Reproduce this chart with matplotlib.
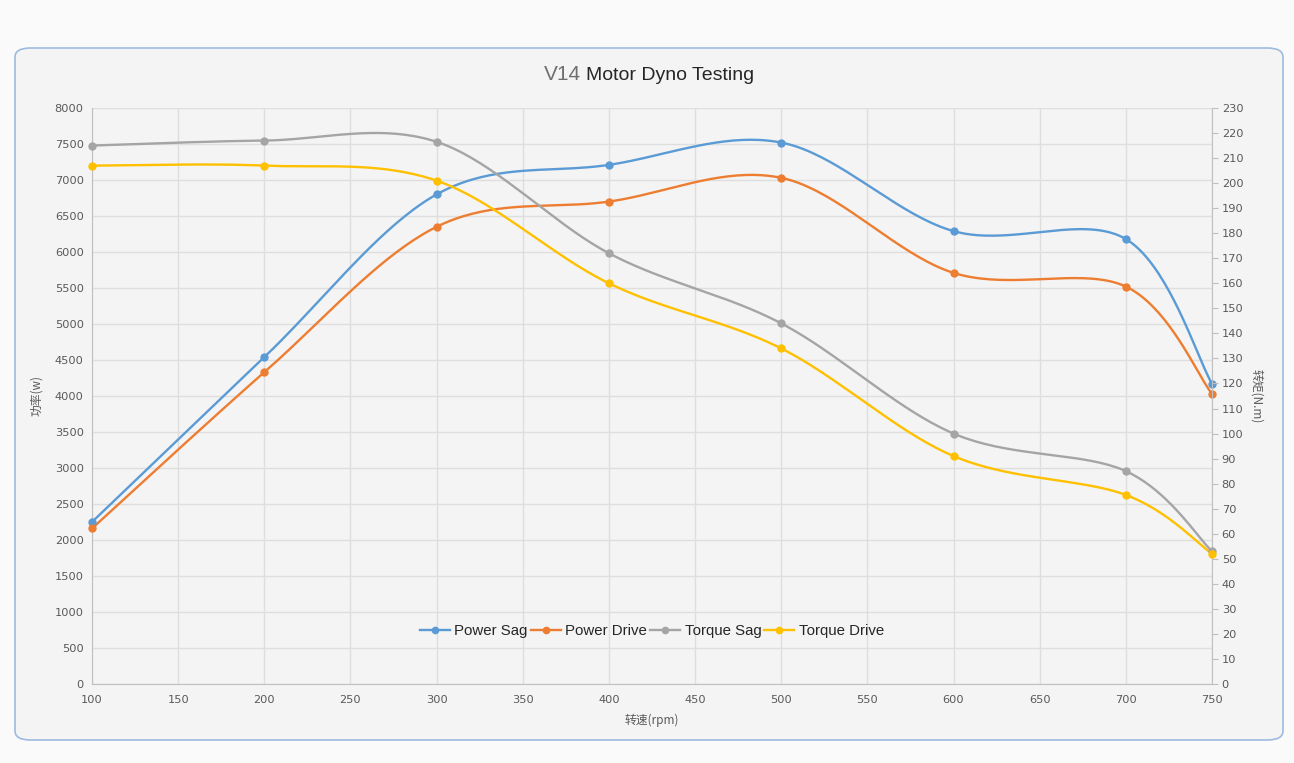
"""V14 motor dyno chart: power and torque vs speed, Excel-style smoothed lines."""

import numpy as np
import matplotlib
matplotlib.use("Agg")
import matplotlib.pyplot as plt
from matplotlib.patches import FancyBboxPatch
from matplotlib.lines import Line2D

plt.rcParams["font.family"] = ["DejaVu Sans", "Noto Sans CJK SC"]

rpm = [100, 200, 300, 400, 500, 600, 700, 750]
power_sag = [2250, 4540, 6800, 7210, 7520, 6290, 6180, 4170]
power_drive = [2160, 4330, 6350, 6700, 7030, 5710, 5520, 4030]
torque_sag = [215, 217, 216.5, 172, 144, 100, 85, 53]
torque_drive = [207, 207, 201, 160, 134, 91, 75.5, 52]

series_names = ["Power Sag", "Power Drive", "Torque Sag", "Torque Drive"]
colors = ["#5b9bd5", "#ed7d31", "#a5a5a5", "#ffc000"]

W, H = 1294, 763
AX_L, AX_R, AX_B, AX_T = 92, 1212, 684, 108
TEXT = "#595959"
GRID = "#dedede"
CJK = ["Noto Sans CJK SC", "DejaVu Sans"]


def smooth(ax, xs, ys, steps=40):
    """Catmull-Rom style Bezier through the points, done in screen space like Excel."""
    trans = ax.transData
    pts = trans.transform(np.column_stack([xs, ys]))
    n = len(pts)
    out = [pts[0]]
    for i in range(n - 1):
        p0 = pts[max(i - 1, 0)]
        p1 = pts[i]
        p2 = pts[i + 1]
        p3 = pts[min(i + 2, n - 1)]
        c1 = p1 + (p2 - p0) / 6.0
        c2 = p2 - (p3 - p1) / 6.0
        t = np.linspace(0, 1, steps)[1:, None]
        seg = ((1 - t) ** 3) * p1 + 3 * ((1 - t) ** 2) * t * c1 + 3 * (1 - t) * t ** 2 * c2 + t ** 3 * p2
        out.extend(seg)
    out = np.array(out)
    data = trans.inverted().transform(out)
    return data[:, 0], data[:, 1]


fig = plt.figure(figsize=(W / 100, H / 100), dpi=100)
fig.patch.set_facecolor("#fafafa")

card = FancyBboxPatch((15 / W, (H - 740) / H), (1283 - 15) / W, (740 - 48) / H,
                      boxstyle="round,pad=0,rounding_size=0.012",
                      transform=fig.transFigure, facecolor="#f4f4f4",
                      edgecolor="#9dbbe0", linewidth=1.2, zorder=-5)
fig.patches.append(card)

ax = fig.add_axes([AX_L / W, (H - AX_B) / H, (AX_R - AX_L) / W, (AX_B - AX_T) / H])
ax.set_facecolor("none")
ax2 = ax.twinx()

ax.set_xlim(100, 750)
ax.set_ylim(0, 8000)
ax2.set_ylim(0, 230)
ax.set_xticks(np.arange(100, 751, 50))
ax.set_yticks(np.arange(0, 8001, 500))
ax2.set_yticks(np.arange(0, 231, 10))

ax.grid(True, color=GRID, linewidth=1.0)
ax.set_axisbelow(True)
for a in (ax, ax2):
    a.spines["top"].set_visible(False)
    a.spines["left"].set_color("#bfbfbf")
    a.spines["bottom"].set_color("#bfbfbf")
    a.spines["right"].set_color("#bfbfbf")
ax.spines["right"].set_visible(False)
ax2.spines["left"].set_visible(False)
ax2.spines["bottom"].set_visible(False)

ax.tick_params(axis="both", length=0, labelsize=8.2, labelcolor=TEXT, pad=6)
ax.tick_params(axis="x", pad=8)
ax2.tick_params(axis="y", length=4, color="#bfbfbf", labelsize=8.2, labelcolor=TEXT, pad=3)

fig.canvas.draw()

for ys, color, target in [(power_sag, colors[0], ax), (power_drive, colors[1], ax),
                          (torque_sag, colors[2], ax2), (torque_drive, colors[3], ax2)]:
    sx, sy = smooth(target, rpm, ys)
    target.plot(sx, sy, color=color, linewidth=1.7, solid_capstyle="round", zorder=3)
    target.plot(rpm, ys, "o", color=color, markersize=5, zorder=4, clip_on=False)

ax.set_xlabel("转速(rpm)", fontsize=8.5, color=TEXT, family=CJK, labelpad=6)
ax.set_ylabel("功率(w)", fontsize=8.5, color=TEXT, family=CJK, labelpad=8)
ax2.set_ylabel("转矩(N.m)", fontsize=8.5, color=TEXT, family=CJK, rotation=270, labelpad=14)

handles = [Line2D([0], [0], color=c, linewidth=1.7, marker="o", markersize=4.5) for c in colors]
ax.legend(handles, series_names, loc="center", bbox_to_anchor=(0.5, (684 - 631) / (AX_B - AX_T)),
          ncol=4, frameon=False, handlelength=2.0, handletextpad=0.3, columnspacing=0.2,
          labelcolor="#262626", prop={"family": "Liberation Sans", "size": 10.8})

fig.text(581 / W, (H - 75) / H, "V14", ha="right", va="center", fontsize=15,
         color="#6f6f6f", family="Liberation Sans")
fig.text(586 / W, (H - 75) / H, "Motor Dyno Testing", ha="left", va="center", fontsize=14,
         color="#262626", family="Liberation Sans")

fig.savefig("out.png", dpi=100, facecolor=fig.get_facecolor())
